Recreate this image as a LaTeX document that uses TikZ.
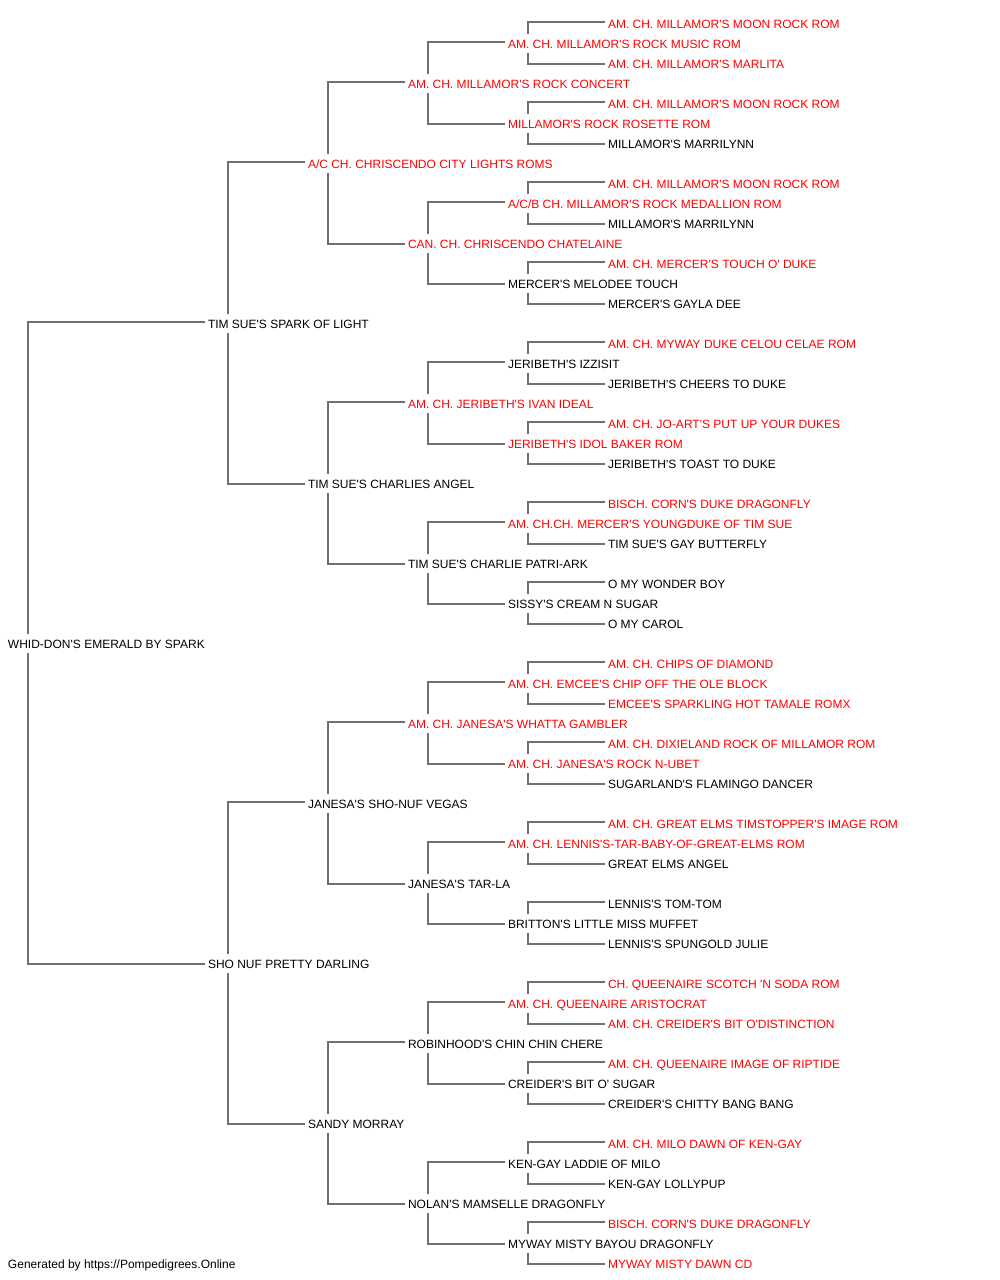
\documentclass[tikz,border=0pt]{standalone}
\usepackage{fontspec}
\setmainfont{Liberation Sans}[Ligatures=TeXOff]
\definecolor{pedred}{RGB}{255,0,0}
\definecolor{linegray}{RGB}{112,112,112}
\begin{document}
\begin{tikzpicture}[x=1pt,y=-1pt,
  dog/.style={anchor=text, inner xsep=3pt, inner ysep=0pt, text height=14pt, text depth=5pt,
    font=\fontsize{12}{14}\selectfont, text=black},
  dogr/.style={dog, text=pedred},
  link/.style={draw=linegray, line width=2pt}]
\fill[white] (0,0) rectangle (1000,1280);
\useasboundingbox (0,0) rectangle (1000,1280);
% generation 0
\node[dog]  (n32) at (8,648) {WHID-DON'S EMERALD BY SPARK};
% generation 1
\node[dog]  (n16) at (208,328) {TIM SUE'S SPARK OF LIGHT};
\node[dog]  (n48) at (208,968) {SHO NUF PRETTY DARLING};
% generation 2
\node[dogr] (n8)  at (308,168) {A/C CH. CHRISCENDO CITY LIGHTS ROMS};
\node[dog]  (n24) at (308,488) {TIM SUE'S CHARLIES ANGEL};
\node[dog]  (n40) at (308,808) {JANESA'S SHO-NUF VEGAS};
\node[dog]  (n56) at (308,1128) {SANDY MORRAY};
% generation 3
\node[dogr] (n4)  at (408,88) {AM. CH. MILLAMOR'S ROCK CONCERT};
\node[dogr] (n12) at (408,248) {CAN. CH. CHRISCENDO CHATELAINE};
\node[dogr] (n20) at (408,408) {AM. CH. JERIBETH'S IVAN IDEAL};
\node[dog]  (n28) at (408,568) {TIM SUE'S CHARLIE PATRI-ARK};
\node[dogr] (n36) at (408,728) {AM. CH. JANESA'S WHATTA GAMBLER};
\node[dog]  (n44) at (408,888) {JANESA'S TAR-LA};
\node[dog]  (n52) at (408,1048) {ROBINHOOD'S CHIN CHIN CHERE};
\node[dog]  (n60) at (408,1208) {NOLAN'S MAMSELLE DRAGONFLY};
% generation 4
\node[dogr] (n2)  at (508,48) {AM. CH. MILLAMOR'S ROCK MUSIC ROM};
\node[dogr] (n6)  at (508,128) {MILLAMOR'S ROCK ROSETTE ROM};
\node[dogr] (n10) at (508,208) {A/C/B CH. MILLAMOR'S ROCK MEDALLION ROM};
\node[dog]  (n14) at (508,288) {MERCER'S MELODEE TOUCH};
\node[dog]  (n18) at (508,368) {JERIBETH'S IZZISIT};
\node[dogr] (n22) at (508,448) {JERIBETH'S IDOL BAKER ROM};
\node[dogr] (n26) at (508,528) {AM. CH.CH. MERCER'S YOUNGDUKE OF TIM SUE};
\node[dog]  (n30) at (508,608) {SISSY'S CREAM N SUGAR};
\node[dogr] (n34) at (508,688) {AM. CH. EMCEE'S CHIP OFF THE OLE BLOCK};
\node[dogr] (n38) at (508,768) {AM. CH. JANESA'S ROCK N-UBET};
\node[dogr] (n42) at (508,848) {AM. CH. LENNIS'S-TAR-BABY-OF-GREAT-ELMS ROM};
\node[dog]  (n46) at (508,928) {BRITTON'S LITTLE MISS MUFFET};
\node[dogr] (n50) at (508,1008) {AM. CH. QUEENAIRE ARISTOCRAT};
\node[dog]  (n54) at (508,1088) {CREIDER'S BIT O' SUGAR};
\node[dog]  (n58) at (508,1168) {KEN-GAY LADDIE OF MILO};
\node[dog]  (n62) at (508,1248) {MYWAY MISTY BAYOU DRAGONFLY};
% generation 5
\node[dogr] (n1)  at (608,28) {AM. CH. MILLAMOR'S MOON ROCK ROM};
\node[dogr] (n3)  at (608,68) {AM. CH. MILLAMOR'S MARLITA};
\node[dogr] (n5)  at (608,108) {AM. CH. MILLAMOR'S MOON ROCK ROM};
\node[dog]  (n7)  at (608,148) {MILLAMOR'S MARRILYNN};
\node[dogr] (n9)  at (608,188) {AM. CH. MILLAMOR'S MOON ROCK ROM};
\node[dog]  (n11) at (608,228) {MILLAMOR'S MARRILYNN};
\node[dogr] (n13) at (608,268) {AM. CH. MERCER'S TOUCH O' DUKE};
\node[dog]  (n15) at (608,308) {MERCER'S GAYLA DEE};
\node[dogr] (n17) at (608,348) {AM. CH. MYWAY DUKE CELOU CELAE ROM};
\node[dog]  (n19) at (608,388) {JERIBETH'S CHEERS TO DUKE};
\node[dogr] (n21) at (608,428) {AM. CH. JO-ART'S PUT UP YOUR DUKES};
\node[dog]  (n23) at (608,468) {JERIBETH'S TOAST TO DUKE};
\node[dogr] (n25) at (608,508) {BISCH. CORN'S DUKE DRAGONFLY};
\node[dog]  (n27) at (608,548) {TIM SUE'S GAY BUTTERFLY};
\node[dog]  (n29) at (608,588) {O MY WONDER BOY};
\node[dog]  (n31) at (608,628) {O MY CAROL};
\node[dogr] (n33) at (608,668) {AM. CH. CHIPS OF DIAMOND};
\node[dogr] (n35) at (608,708) {EMCEE'S SPARKLING HOT TAMALE ROMX};
\node[dogr] (n37) at (608,748) {AM. CH. DIXIELAND ROCK OF MILLAMOR ROM};
\node[dog]  (n39) at (608,788) {SUGARLAND'S FLAMINGO DANCER};
\node[dogr] (n41) at (608,828) {AM. CH. GREAT ELMS TIMSTOPPER'S IMAGE ROM};
\node[dog]  (n43) at (608,868) {GREAT ELMS ANGEL};
\node[dog]  (n45) at (608,908) {LENNIS'S TOM-TOM};
\node[dog]  (n47) at (608,948) {LENNIS'S SPUNGOLD JULIE};
\node[dogr] (n49) at (608,988) {CH. QUEENAIRE SCOTCH 'N SODA ROM};
\node[dogr] (n51) at (608,1028) {AM. CH. CREIDER'S BIT O'DISTINCTION};
\node[dogr] (n53) at (608,1068) {AM. CH. QUEENAIRE IMAGE OF RIPTIDE};
\node[dog]  (n55) at (608,1108) {CREIDER'S CHITTY BANG BANG};
\node[dogr] (n57) at (608,1148) {AM. CH. MILO DAWN OF KEN-GAY};
\node[dog]  (n59) at (608,1188) {KEN-GAY LOLLYPUP};
\node[dogr] (n61) at (608,1228) {BISCH. CORN'S DUKE DRAGONFLY};
\node[dogr] (n63) at (608,1268) {MYWAY MISTY DAWN CD};
% footer
\node[dog] (foot) at (8,1268) {Generated by https://Pompedigrees.Online};
% connectors: parent/upper child/lower child
\foreach \p/\a/\b in {32/16/48,
  16/8/24, 48/40/56,
  8/4/12, 24/20/28, 40/36/44, 56/52/60,
  4/2/6, 12/10/14, 20/18/22, 28/26/30, 36/34/38, 44/42/46, 52/50/54, 60/58/62,
  2/1/3, 6/5/7, 10/9/11, 14/13/15, 18/17/19, 22/21/23, 26/25/27, 30/29/31,
  34/33/35, 38/37/39, 42/41/43, 46/45/47, 50/49/51, 54/53/55, 58/57/59, 62/61/63}{
  \draw[link] ([yshift=1.2pt]n\a.west) -| ([xshift=23pt]n\p.north west);
  \draw[link] ([yshift=-0.5pt]n\b.west) -| ([xshift=23pt]n\p.south west);
}
\end{tikzpicture}
\end{document}
